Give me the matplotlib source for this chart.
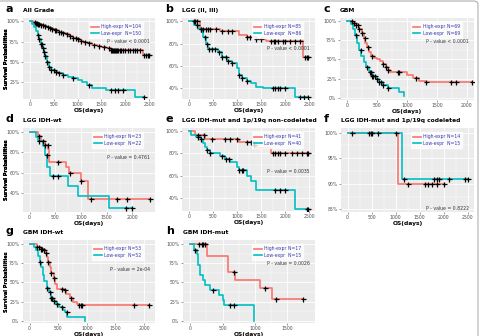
import matplotlib
matplotlib.use("Agg")
import matplotlib.pyplot as plt
from matplotlib.patches import FancyBboxPatch
import numpy as np

RED = "#F8766D"
TEAL = "#00BFC4"

# ---- data (days, survival fraction) ----
A_HIGH_T = [0, 60, 120, 180, 220, 260, 300, 350, 400, 450, 520, 600, 680, 750, 820, 900, 980,
            1050, 1120, 1200, 1300, 1400, 1500, 1600, 1700, 2360]
A_HIGH_S = [1.0, 0.99, 0.98, 0.97, 0.96, 0.95, 0.94, 0.93, 0.92, 0.91, 0.89, 0.87, 0.86, 0.84,
            0.82, 0.80, 0.78, 0.76, 0.75, 0.73, 0.71, 0.70, 0.68, 0.67, 0.65, 0.58]
A_HIGH_C = [110, 140, 160, 180, 200, 230, 280, 330, 380, 420, 470, 530, 560, 620, 650, 700, 780,
            850, 900, 960, 1010, 1080, 1150, 1250, 1350, 1450, 1550, 1650, 1700, 1720, 1740,
            1760, 1780, 1800, 1820, 1850, 1880, 1900, 1950, 2000, 2050, 2100, 2150, 2200, 2250,
            2300, 2400, 2440, 2470, 2500]
A_LOW_T = [0, 50, 100, 140, 170, 200, 230, 260, 290, 320, 360, 400, 450, 520, 600, 700, 800,
           900, 1000, 1100, 1200, 1300, 1600, 2200]
A_LOW_S = [1.0, 0.97, 0.93, 0.88, 0.83, 0.78, 0.72, 0.67, 0.62, 0.57, 0.50, 0.44, 0.40, 0.38,
           0.36, 0.34, 0.32, 0.30, 0.28, 0.25, 0.22, 0.18, 0.15, 0.07]
A_LOW_C = [180, 200, 230, 250, 270, 300, 330, 360, 400, 450, 500, 550, 620, 700, 900, 1250,
           1700, 1780, 1850, 1950, 2400]

B_HIGH_T = [0, 240, 650, 1050, 1200, 1400, 1600, 2370]
B_HIGH_S = [1.0, 0.93, 0.91, 0.88, 0.86, 0.84, 0.825, 0.68]
B_HIGH_C = [100, 140, 180, 250, 300, 350, 400, 450, 560, 700, 820, 900, 1200, 1280, 1400, 1500,
            1700, 1760, 1800, 1850, 1950, 2000, 2100, 2200, 2300, 2420, 2450, 2480]
B_LOW_T = [0, 100, 200, 300, 350, 400, 600, 700, 800, 900, 1000, 1050, 1100, 1200, 1300, 1400,
           1550, 2200]
B_LOW_S = [1.0, 0.97, 0.93, 0.86, 0.80, 0.75, 0.72, 0.68, 0.64, 0.62, 0.58, 0.52, 0.49, 0.46,
           0.44, 0.41, 0.395, 0.32]
B_LOW_C = [180, 250, 330, 380, 420, 480, 550, 620, 700, 780, 820, 900, 1050, 1100, 1200, 1750,
           1800, 1850, 1900, 2000, 2300, 2400, 2480]

C_HIGH_T = [0, 100, 150, 200, 250, 280, 310, 330, 370, 400, 450, 500, 550, 600, 650, 680, 720,
            850, 1000, 1100, 1200, 1300]
C_HIGH_S = [1.0, 0.98, 0.95, 0.90, 0.85, 0.78, 0.72, 0.66, 0.60, 0.55, 0.52, 0.50, 0.48, 0.44,
            0.40, 0.36, 0.34, 0.33, 0.30, 0.26, 0.22, 0.20]
C_HIGH_C = [80, 120, 150, 180, 200, 250, 300, 350, 420, 600, 650, 680, 850, 870, 1150, 1320,
            1730, 1820, 2080]
C_LOW_T = [0, 70, 100, 130, 170, 210, 240, 280, 320, 370, 420, 480, 540, 600, 680, 850, 870, 950]
C_LOW_S = [1.0, 0.96, 0.90, 0.82, 0.72, 0.62, 0.54, 0.46, 0.40, 0.33, 0.28, 0.24, 0.20, 0.17,
           0.13, 0.13, 0.08, 0.02]
C_LOW_C = [150, 230, 330, 380, 400, 420, 440, 470, 500, 540, 570, 600, 680]

D_HIGH_T = [0, 170, 230, 300, 360, 380, 700, 760, 1000, 1130]
D_HIGH_S = [1.0, 0.96, 0.91, 0.87, 0.83, 0.70, 0.65, 0.60, 0.52, 0.34]
D_HIGH_C = [180, 250, 300, 350, 560, 780, 1000, 1200, 1700, 1900, 2350]
D_LOW_T = [0, 120, 170, 260, 300, 340, 400, 740, 950, 1550]
D_LOW_S = [1.0, 0.95, 0.91, 0.86, 0.77, 0.65, 0.57, 0.47, 0.37, 0.25]
D_LOW_C = [180, 330, 460, 560, 1870, 2000]

E_HIGH_T = [0, 120, 330, 1050, 1350, 1400, 1700]
E_HIGH_S = [1.0, 0.97, 0.93, 0.90, 0.88, 0.85, 0.805]
E_HIGH_C = [200, 310, 480, 750, 850, 1000, 1200, 1300, 1350, 1750, 1800, 1850, 1900, 2000,
            2150, 2250, 2350, 2450, 2480]
E_LOW_T = [0, 50, 150, 250, 300, 330, 380, 450, 650, 750, 850, 1000, 1050, 1200, 1300, 1400,
           2200]
E_LOW_S = [1.0, 0.97, 0.95, 0.93, 0.89, 0.86, 0.83, 0.80, 0.78, 0.75, 0.72, 0.68, 0.65, 0.60,
           0.55, 0.47, 0.30]
E_LOW_C = [200, 250, 380, 450, 700, 780, 830, 1050, 1100, 1130, 1800, 1900, 2000, 2450, 2480]

F_HIGH_T = [0, 1050]
F_HIGH_S = [1.0, 0.90]
F_HIGH_C = [1250, 1600, 1680, 1750, 1850, 2000]
F_LOW_T = [0, 1130]
F_LOW_S = [1.0, 0.909]
F_LOW_C = [100, 440, 480, 500, 640, 1000, 1180, 1800, 1850, 1900, 2100, 2450, 2500]

G_HIGH_T = [0, 130, 200, 250, 280, 300, 330, 360, 380, 420, 450, 480, 600, 640, 700, 760, 820,
            870]
G_HIGH_S = [1.0, 0.96, 0.94, 0.92, 0.88, 0.83, 0.77, 0.70, 0.62, 0.56, 0.48, 0.42, 0.40, 0.35,
            0.30, 0.25, 0.22, 0.20]
G_HIGH_C = [130, 160, 200, 220, 250, 280, 330, 380, 420, 560, 620, 720, 870, 890, 920, 1830, 2080]
G_LOW_T = [0, 80, 120, 150, 180, 200, 230, 260, 300, 340, 370, 410, 460, 520, 580, 620, 660, 960]
G_LOW_S = [1.0, 0.96, 0.92, 0.85, 0.77, 0.70, 0.60, 0.52, 0.43, 0.38, 0.30, 0.26, 0.22, 0.18,
           0.14, 0.12, 0.05, 0.0]
G_LOW_C = [180, 300, 350, 380, 400, 430, 480, 560, 650]

H_HIGH_T = [0, 260, 590, 690, 1080, 1270]
H_HIGH_S = [1.0, 0.84, 0.64, 0.53, 0.43, 0.29]
H_HIGH_C = [130, 180, 200, 220, 680, 1150, 1320, 1740]
H_LOW_T = [0, 60, 100, 120, 150, 190, 220, 300, 450, 500, 520, 980]
H_LOW_S = [1.0, 0.93, 0.87, 0.73, 0.60, 0.53, 0.47, 0.40, 0.33, 0.27, 0.20, 0.0]
H_LOW_C = [80, 350, 610, 680]

PANELS = [
    # letter, title, N high, N low, p text, curves, box (l, t, r, b px), xlim, ylim, yticks, xticks, p y
    ("a", "All Grade", 104, 150, "P - value < 0.0001",
     (A_HIGH_T, A_HIGH_S, A_HIGH_C, A_LOW_T, A_LOW_S, A_LOW_C),
     (23, 18, 155, 99), (-140, 2620), (0.045, 1.04), [0.25, 0.5, 0.75, 1.0],
     [0, 500, 1000, 1500, 2000, 2500], 0.71),
    ("b", "LGG (II, III)", 85, 86, "P - value < 0.0001",
     (B_HIGH_T, B_HIGH_S, B_HIGH_C, B_LOW_T, B_LOW_S, B_LOW_C),
     (182, 18, 315, 99), (-140, 2620), (0.30, 1.03), [0.4, 0.6, 0.8, 1.0],
     [0, 500, 1000, 1500, 2000, 2500], 0.62),
    ("c", "GBM", 69, 69, "P - value < 0.0001",
     (C_HIGH_T, C_HIGH_S, C_HIGH_C, C_LOW_T, C_LOW_S, C_LOW_C),
     (340, 18, 474, 100), (-115, 2120), (-0.03, 1.04), [0, 0.25, 0.5, 0.75, 1.0],
     [0, 500, 1000, 1500, 2000], 0.71),
    ("d", "LGG IDH-wt", 23, 22, "P - value = 0.4761",
     (D_HIGH_T, D_HIGH_S, D_HIGH_C, D_LOW_T, D_LOW_S, D_LOW_C),
     (23, 128, 155, 212), (-130, 2440), (0.21, 1.04), [0.4, 0.6, 0.8, 1.0],
     [0, 500, 1000, 1500, 2000], 0.65),
    ("e", "LGG IDH-mut and 1p/19q non-codeleted", 41, 40, "P - value = 0.0035",
     (E_HIGH_T, E_HIGH_S, E_HIGH_C, E_LOW_T, E_LOW_S, E_LOW_C),
     (182, 128, 315, 211), (-140, 2620), (0.28, 1.03), [0.4, 0.6, 0.8, 1.0],
     [0, 500, 1000, 1500, 2000, 2500], 0.47),
    ("f", "LGG IDH-mut and 1p/19q codeleted", 14, 15, "P - value = 0.8222",
     (F_HIGH_T, F_HIGH_S, F_HIGH_C, F_LOW_T, F_LOW_S, F_LOW_C),
     (341, 128, 474, 212), (-138, 2630), (0.845, 1.009), [0.85, 0.9, 0.95, 1.0],
     [0, 500, 1000, 1500, 2000, 2500], 0.04),
    ("g", "GBM IDH-wt", 53, 52, "P - value = 2e-04",
     (G_HIGH_T, G_HIGH_S, G_HIGH_C, G_LOW_T, G_LOW_S, G_LOW_C),
     (23, 240, 155, 323), (-115, 2190), (-0.03, 1.055), [0, 0.25, 0.5, 0.75, 1.0],
     [0, 500, 1000, 1500, 2000], 0.64),
    ("h", "GBM IDH-mut", 17, 15, "P - value = 0.0026",
     (H_HIGH_T, H_HIGH_S, H_HIGH_C, H_LOW_T, H_LOW_S, H_LOW_C),
     (183, 240, 315, 323), (-113, 1930), (-0.03, 1.055), [0, 0.25, 0.5, 0.75, 1.0],
     [0, 500, 1000, 1500], 0.72),
]

W, H = 480, 336


def surv_at(times, surv, t):
    idx = np.searchsorted(times, t, side="right") - 1
    return np.asarray(surv)[idx]


def draw_curve(ax, times, surv, cens, color, label):
    end = max(times[-1], max(cens) if cens else 0)
    t = list(times) + [end]
    s = list(surv) + [surv[-1]]
    line, = ax.step(t, s, where="post", color=color, lw=1.2, label=label, zorder=3)
    cy = surv_at(times, surv, np.asarray(cens))
    ax.plot(cens, cy, "+", color="black", ms=3.6, mew=0.9, zorder=4)
    return line


fig = plt.figure(figsize=(W / 100, H / 100), dpi=100)

for (letter, title, n_hi, n_lo, ptext, curves, box, xlim, ylim, yticks, xticks, py) in PANELS:
    l, t, r, b = box
    ax = fig.add_axes([l / W, 1 - b / H, (r - l) / W, (b - t) / H])
    ax.set_facecolor("#EBEBEB")
    for sp in ax.spines.values():
        sp.set_visible(False)
    ax.set_xlim(*xlim)
    ax.set_ylim(*ylim)
    ax.set_xticks(xticks)
    ax.set_xticklabels([str(x) for x in xticks])
    ax.set_yticks(yticks)
    ax.set_yticklabels(["%d%%" % round(y * 100) for y in yticks])
    ax.set_xticks([(xticks[i] + xticks[i + 1]) / 2 for i in range(len(xticks) - 1)], minor=True)
    ax.set_yticks([(yticks[i] + yticks[i + 1]) / 2 for i in range(len(yticks) - 1)], minor=True)
    ax.grid(which="major", color="white", lw=0.6)
    ax.grid(which="minor", color="white", lw=0.3)
    ax.set_axisbelow(True)
    ax.tick_params(which="major", labelsize=3.3, length=1.5, width=0.4, pad=1,
                   color="#555555", labelcolor="#4d4d4d")
    ax.tick_params(which="minor", length=0)

    ht, hs, hc, lt, ls, lc = curves
    h1 = draw_curve(ax, ht, hs, hc, RED, "High-expr N=%d" % n_hi)
    h2 = draw_curve(ax, lt, ls, lc, TEAL, "Low-expr  N=%d" % n_lo)

    leg = ax.legend(handles=[h1, h2], loc="upper right", bbox_to_anchor=(0.93, 0.98),
                    fontsize=3.3, frameon=True, fancybox=False, handlelength=1.6,
                    borderpad=0.5, labelspacing=0.3, handletextpad=0.5)
    leg.get_frame().set_facecolor("white")
    leg.get_frame().set_edgecolor("white")
    for txt in leg.get_texts():
        txt.set_color("#3b3bb0")

    ax.text(0.96, py, ptext, transform=ax.transAxes, ha="right", va="center",
            fontsize=3.3, color="#333333")

    ax.set_xlabel("OS(days)", fontsize=4.3, fontweight="bold", labelpad=0.5)
    ax.set_ylabel("Survival Probabilities", fontsize=3.6, fontweight="bold")
    ax.yaxis.set_label_coords(-(l - 9) / (r - l), 0.5)

    fig.text(l / W, 1 - (t - 5) / H, title, fontsize=4.3, fontweight="bold",
             ha="left", va="bottom")
    fig.text((l - 17) / W, 1 - (t - 4) / H, letter, fontsize=8, fontweight="bold",
             ha="left", va="bottom")

# thin rounded frame around the figure (top and right visible)
frame = FancyBboxPatch((-10 / W, -10 / H), (W + 8) / W, (H + 9) / H,
                       boxstyle="round,pad=0,rounding_size=0.01", transform=fig.transFigure,
                       facecolor="none", edgecolor="#b0b0b0", lw=0.8)
fig.patches.append(frame)

fig.savefig("out.png", dpi=100)
